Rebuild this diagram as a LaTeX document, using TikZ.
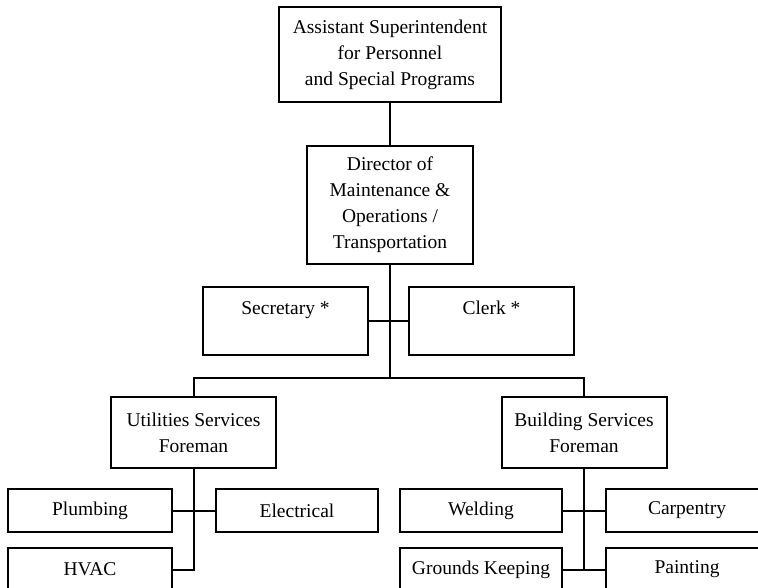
\documentclass[tikz,border=0pt]{standalone}
\usepackage{fontspec}
\setmainfont{Liberation Serif}
\usepackage{tikz}

\tikzset{
  box/.style={draw,line width=2pt,align=center,inner sep=0pt,font=\fontsize{19.5}{26}\selectfont},
  wire/.style={line width=2pt}
}

\begin{document}
\begin{tikzpicture}[x=1pt,y=-1pt]
\useasboundingbox (0,0) rectangle (758,588);
\fill[white] (0,0) rectangle (758,588);
\clip (0,0) rectangle (758,588);
\node[box,minimum width=222,minimum height=95] (asst) at (390,54.5) {Assistant Superintendent\\for Personnel\\and Special Programs};
\node[box,minimum width=166,minimum height=118] (dir) at (390,205) {Director of\\Maintenance \&\\Operations /\\Transportation};
\node[box,minimum width=165,minimum height=68] (sec) at (285.5,321) {Secretary *\\~};
\node[box,minimum width=165,minimum height=68] (clerk) at (491.5,321) {Clerk *\\~};
\node[box,minimum width=165,minimum height=71] (util) at (193.5,432.5) {Utilities Services\\Foreman};
\node[box,minimum width=165,minimum height=71] (bldg) at (584,432.5) {Building Services\\Foreman};
\node[box,minimum width=164,minimum height=43] (plumb) at (90,510.5) {Plumbing};
\node[box,minimum width=162,minimum height=43] (elec) at (297,510.5) {Electrical};
\node[box,minimum width=164,minimum height=43] (hvac) at (90,569.5) {HVAC};
\node[box,minimum width=162,minimum height=43] (weld) at (481,510.5) {Welding};
\node[box,minimum width=162,minimum height=43] (carp) at (687,510.5) {Carpentry};
\node[box,minimum width=162,minimum height=43] (grounds) at (481,569.5) {Grounds Keeping};
\node[box,minimum width=162,minimum height=43] (paint) at (687,569.5) {Painting};
\coordinate (split) at (390,378);
\draw[wire] (asst.south) -- (dir.north);
\draw[wire] (dir.south) -- (split);
\draw[wire] (sec.east) -- (clerk.west);
\draw[wire] (util.north) |- (split) -| (bldg.north);
\draw[wire] (plumb.east) -- (elec.west);
\draw[wire] (util.south) |- (hvac.east);
\draw[wire] (weld.east) -- (carp.west);
\draw[wire] (grounds.east) -- (paint.west);
\draw[wire] (bldg.south) |- (grounds.east);
\end{tikzpicture}
\end{document}
